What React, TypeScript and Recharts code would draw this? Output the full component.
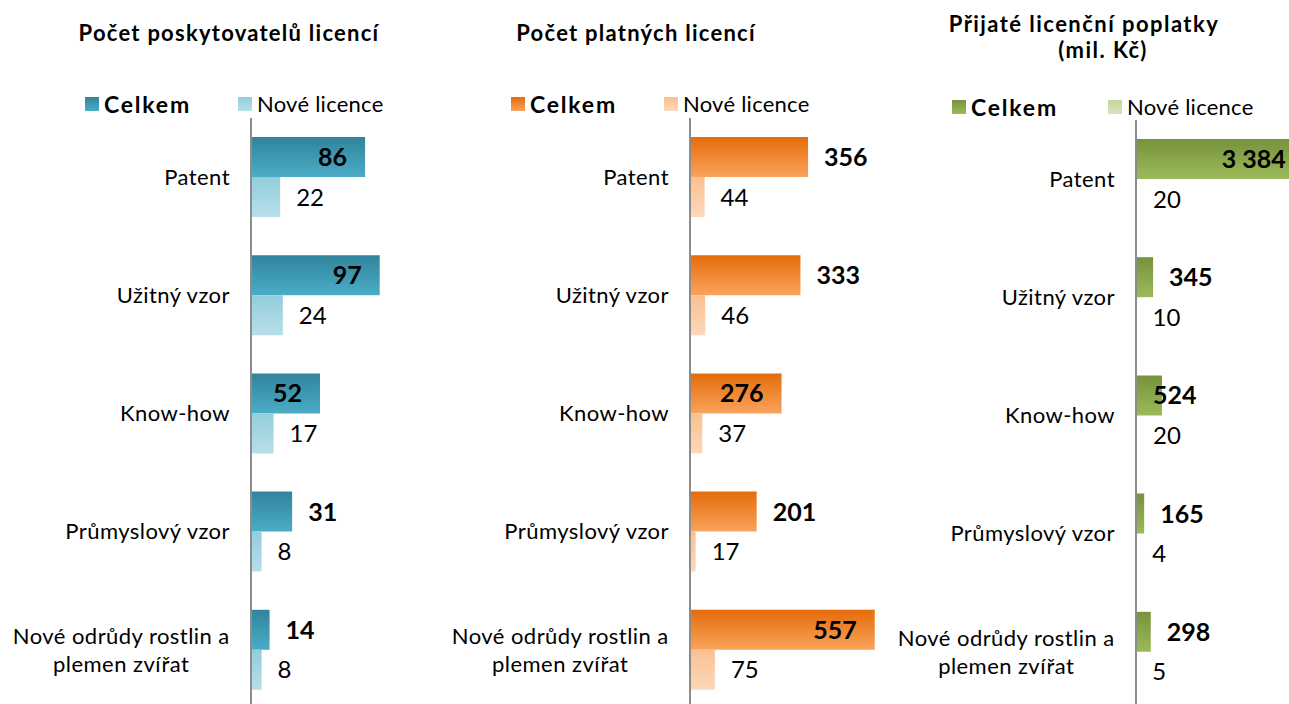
import React from 'react';
import { Bar, BarChart, LabelList, XAxis, YAxis } from 'recharts';

const categories = [
  'Patent',
  'Užitný vzor',
  'Know-how',
  'Průmyslový vzor',
  'Nové odrůdy rostlin a\nplemen zvířat',
];

const poskytovateleCelkem = [86, 97, 52, 31, 14];
const poskytovateleNove = [22, 24, 17, 8, 8];

const licenceCelkem = [356, 333, 276, 201, 557];
const licenceNove = [44, 46, 37, 17, 75];

const poplatkyCelkem = [3384, 345, 524, 165, 298];
const poplatkyNove = [20, 10, 20, 4, 5];

const FONT = 'Lato, "Open Sans", sans-serif';
const TICK_SIZE = 22;
const TICK_LS = 0.45;

type Mode = 'in' | 'out' | 'base';

type PanelDef = {
  id: string;
  title: string[];
  titleX: number[];
  titleY: number[];
  titleLs: number;
  left: number;
  axisX: number;
  top: number;
  width: number;
  max: number;
  celkem: number[];
  nove: number[];
  modes: Mode[];
  colors: { c1: string; c2: string; n1: string; n2: string };
  legendX: number[];
  legendY: number;
};

const fmt = (v: number) => String(v).replace(/\B(?=(\d{3})+(?!\d))/g, ' ');

let ctx: CanvasRenderingContext2D | null = null;
function measure(text: string, font: string, ls: number) {
  if (!ctx) ctx = document.createElement('canvas').getContext('2d');
  if (!ctx) return text.length * 10;
  ctx.font = font;
  return ctx.measureText(text).width + text.length * ls;
}

const CategoryTick = (props: any) => {
  const { x, y, payload } = props;
  const lines = String(payload.value).split('\n');
  const style = { fontFamily: FONT, fontSize: TICK_SIZE, letterSpacing: TICK_LS, fill: '#000' };
  if (lines.length === 1) {
    return (
      <text x={x} y={y} dy="0.35em" textAnchor="end" style={style}>
        {lines[0]}
      </text>
    );
  }
  const w = measure(lines[0], `${TICK_SIZE}px ${FONT}`, TICK_LS);
  const cx = x - w / 2;
  return (
    <text textAnchor="middle" style={style}>
      {lines.map((l, i) => (
        <tspan key={i} x={cx} y={y + (i - (lines.length - 1) / 2) * 28} dy="0.35em">
          {l}
        </tspan>
      ))}
    </text>
  );
};

function makeLabel(modes: Mode[] | null, bold: boolean) {
  return (p: any) => {
    const { x, y, width, height, value, index } = p;
    const mode: Mode = modes ? modes[index] : 'out';
    let tx = x + width + 16;
    let anchor = 'start';
    if (mode === 'in') {
      tx = x + width - 18;
      anchor = 'end';
    } else if (mode === 'base') {
      tx = x + 17;
    }
    return (
      <text
        x={tx}
        y={y + height / 2}
        dy="0.36em"
        textAnchor={anchor}
        style={{ fontFamily: FONT, fontSize: bold ? 25 : 24, fontWeight: bold ? 700 : 400, fill: '#000' }}
      >
        {fmt(Number(value))}
      </text>
    );
  };
}

const panels: PanelDef[] = [
  {
    id: 'p1',
    title: ['Počet poskytovatelů licencí'],
    titleX: [229],
    titleY: [33],
    titleLs: 1.25,
    left: 0,
    axisX: 251,
    top: 118,
    width: 199,
    max: 150,
    celkem: poskytovateleCelkem,
    nove: poskytovateleNove,
    modes: ['in', 'in', 'in', 'out', 'out'],
    colors: { c1: '#31849b', c2: '#4bacc6', n1: '#92cddc', n2: '#b9dfe9' },
    legendX: [85, 238],
    legendY: 104,
  },
  {
    id: 'p2',
    title: ['Počet platných licencí'],
    titleX: [636],
    titleY: [33],
    titleLs: 1.25,
    left: 440,
    axisX: 690,
    top: 118,
    width: 199,
    max: 600,
    celkem: licenceCelkem,
    nove: licenceNove,
    modes: ['out', 'out', 'in', 'out', 'in'],
    colors: { c1: '#e46c0a', c2: '#f9a35c', n1: '#fac090', n2: '#fdd8ba' },
    legendX: [511, 664],
    legendY: 104,
  },
  {
    id: 'p3',
    title: ['Přijaté licenční poplatky', '(mil. Kč)'],
    titleX: [1084, 1103],
    titleY: [24, 50],
    titleLs: 1.45,
    left: 886,
    axisX: 1136,
    top: 120,
    width: 198.4,
    max: 4000,
    celkem: poplatkyCelkem,
    nove: poplatkyNove,
    modes: ['in', 'out', 'base', 'out', 'out'],
    colors: { c1: '#76923c', c2: '#9bbb59', n1: '#c3d69b', n2: '#d8e4bd' },
    legendX: [952, 1108],
    legendY: 107,
  },
];

function Swatch({ a, b }: { a: string; b: string }) {
  return (
    <span
      style={{
        position: 'absolute',
        left: 0,
        top: 7,
        width: 14,
        height: 14,
        background: `linear-gradient(${a}, ${b})`,
      }}
    />
  );
}

function LegendItem({ x, y, a, b, label, bold }: { x: number; y: number; a: string; b: string; label: string; bold: boolean }) {
  return (
    <div
      style={{
        position: 'absolute',
        left: x,
        top: y - 14,
        height: 28,
        lineHeight: '28px',
        fontFamily: FONT,
        whiteSpace: 'nowrap',
      }}
    >
      <Swatch a={a} b={b} />
      <span
        style={{
          marginLeft: 19,
          fontWeight: bold ? 700 : 400,
          fontSize: bold ? 23 : 22,
          letterSpacing: bold ? 1.8 : 0.25,
        }}
      >
        {label}
      </span>
    </div>
  );
}

function Panel({ d }: { d: PanelDef }) {
  const data = categories.map((name, i) => ({ name, celkem: d.celkem[i], nove: d.nove[i] }));
  const yw = d.axisX - d.left;
  const gc = `${d.id}-c`;
  const gn = `${d.id}-n`;
  return (
    <>
      {d.title.map((t, i) => (
        <div
          key={i}
          style={{
            position: 'absolute',
            left: d.titleX[i] - 200,
            width: 400,
            top: d.titleY[i] - 14,
            height: 28,
            lineHeight: '28px',
            textAlign: 'center',
            fontFamily: FONT,
            fontWeight: 700,
            fontSize: 22,
            letterSpacing: d.titleLs,
            color: '#000',
            whiteSpace: 'nowrap',
          }}
        >
          {t}
        </div>
      ))}
      <LegendItem x={d.legendX[0]} y={d.legendY} a={d.colors.c1} b={d.colors.c2} label="Celkem" bold />
      <LegendItem x={d.legendX[1]} y={d.legendY} a={d.colors.n1} b={d.colors.n2} label="Nové licence" bold={false} />
      <div style={{ position: 'absolute', left: d.left, top: 0 }}>
        <BarChart
          width={yw + d.width}
          height={d.top + 591}
          data={data}
          layout="vertical"
          margin={{ top: d.top, right: 0, bottom: 0, left: 0 }}
          barSize={40}
          barGap={0}
        >
          <defs>
            <linearGradient id={gc} x1="0" y1="0" x2="0" y2="1">
              <stop offset="0%" stopColor={d.colors.c1} />
              <stop offset="100%" stopColor={d.colors.c2} />
            </linearGradient>
            <linearGradient id={gn} x1="0" y1="0" x2="0" y2="1">
              <stop offset="0%" stopColor={d.colors.n1} />
              <stop offset="100%" stopColor={d.colors.n2} />
            </linearGradient>
          </defs>
          <XAxis type="number" domain={[0, d.max]} hide />
          <YAxis
            type="category"
            dataKey="name"
            width={yw}
            axisLine={{ stroke: '#8c8c8c', strokeWidth: 2 }}
            tickLine={false}
            tickSize={0}
            tickMargin={21}
            tick={<CategoryTick />}
            interval={0}
          />
          <Bar dataKey="celkem" fill={`url(#${gc})`} isAnimationActive={false}>
            <LabelList dataKey="celkem" content={makeLabel(d.modes, true)} />
          </Bar>
          <Bar dataKey="nove" fill={`url(#${gn})`} isAnimationActive={false}>
            <LabelList dataKey="nove" content={makeLabel(null, false)} />
          </Bar>
        </BarChart>
      </div>
    </>
  );
}

export default function App() {
  return (
    <div
      style={{
        position: 'fixed',
        left: 0,
        top: 0,
        width: 1289,
        height: 704,
        overflow: 'hidden',
        background: '#fff',
      }}
    >
      {panels.map((d) => (
        <Panel key={d.id} d={d} />
      ))}
    </div>
  );
}
